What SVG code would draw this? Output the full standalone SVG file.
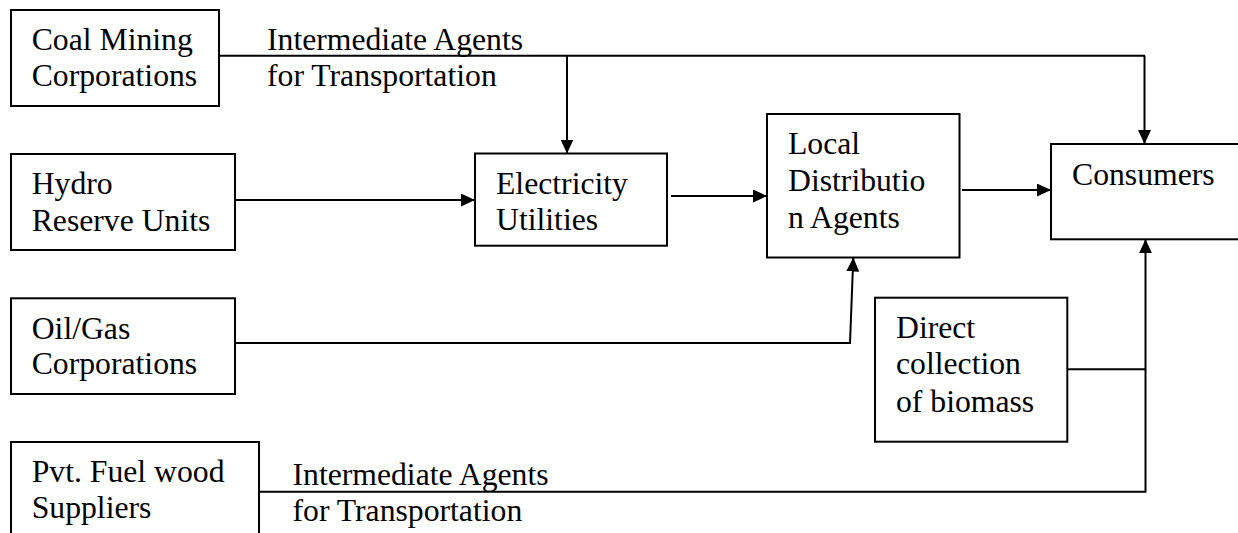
<svg xmlns="http://www.w3.org/2000/svg" width="1238" height="533" viewBox="0 0 1238 533">
<style>
.box{fill:#fff;stroke:#000;stroke-width:2}
.t{font-family:"Liberation Serif","Times New Roman",serif;font-size:31.7px;fill:#000}
.c{fill:none;stroke:#000;stroke-width:2}
</style>
<defs>
<marker id="ah" markerUnits="userSpaceOnUse" markerWidth="14" markerHeight="13" refX="14" refY="6.5" orient="auto">
<path d="M0,0 L14,6.5 L0,13 z" fill="#000"/>
</marker>
</defs>
<rect width="1238" height="533" fill="#fff"/>
<g id="connectors">
<path class="c" d="M219,55.7 H1145"/>
<path class="c" d="M567,55.7 V153.5" marker-end="url(#ah)"/>
<path class="c" d="M1144.5,55.7 V144" marker-end="url(#ah)"/>
<path class="c" d="M235,200 H475" marker-end="url(#ah)"/>
<path class="c" d="M671,196 H767" marker-end="url(#ah)"/>
<path class="c" d="M962,190 H1051" marker-end="url(#ah)"/>
<path class="c" d="M235,343 H850 L853.3,257.5" marker-end="url(#ah)"/>
<path class="c" d="M1067,369.3 H1145"/>
<path class="c" d="M259,491.7 H1145.5 V239.3" marker-end="url(#ah)"/>
<g id="label-top">
<text class="t" x="267" y="49.5">Intermediate Agents</text>
<text class="t" x="267" y="86">for Transportation</text>
</g>
<g id="label-bottom">
<text class="t" x="292.5" y="485">Intermediate Agents</text>
<text class="t" x="292.5" y="521">for Transportation</text>
</g>
</g>
<g id="coal">
<rect class="box" x="11" y="10" width="208" height="96"/>
<text class="t" x="31.7" y="49.5">Coal Mining</text>
<text class="t" x="31.7" y="86">Corporations</text>
</g>
<g id="hydro">
<rect class="box" x="11" y="154" width="224" height="96"/>
<text class="t" x="31.7" y="194.3">Hydro</text>
<text class="t" x="31.7" y="230.7">Reserve Units</text>
</g>
<g id="electricity">
<rect class="box" x="475" y="153.5" width="192" height="92.2"/>
<text class="t" x="496" y="193.5">Electricity</text>
<text class="t" x="496" y="230">Utilities</text>
</g>
<g id="local">
<rect class="box" x="767" y="114" width="192.5" height="143.5"/>
<text class="t" x="788" y="154">Local</text>
<text class="t" x="788" y="190.7">Distributio</text>
<text class="t" x="788" y="227.5">n Agents</text>
</g>
<g id="consumers">
<rect class="box" x="1051" y="144" width="200" height="95.3"/>
<text class="t" x="1072" y="185">Consumers</text>
</g>
<g id="oilgas">
<rect class="box" x="11" y="298.3" width="224" height="95.7"/>
<text class="t" x="31.7" y="338.5">Oil/Gas</text>
<text class="t" x="31.7" y="374">Corporations</text>
</g>
<g id="biomass">
<rect class="box" x="875" y="297.7" width="192.3" height="144"/>
<text class="t" x="896" y="338.3">Direct</text>
<text class="t" x="896" y="374.3">collection</text>
<text class="t" x="896" y="411.7">of biomass</text>
</g>
<g id="pvt">
<rect class="box" x="11" y="442" width="248" height="110"/>
<text class="t" x="31.7" y="481.5">Pvt. Fuel wood</text>
<text class="t" x="31.7" y="518">Suppliers</text>
</g>
</svg>
